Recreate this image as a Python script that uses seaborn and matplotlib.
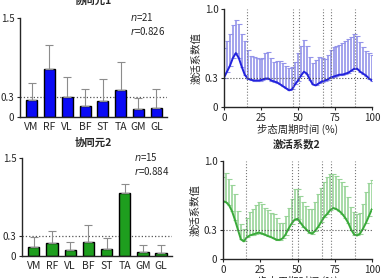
import seaborn as sns
import matplotlib.pyplot as plt
import numpy as np
import pandas as pd

# 肌肉名称 / 协同元权重 (均值, 均值+SD)
muscles = ["VM", "RF", "VL", "BF", "ST", "TA", "GM", "GL"]
w1_mean = [0.26, 0.72, 0.30, 0.16, 0.24, 0.41, 0.12, 0.13]
w1_top = [0.51, 1.09, 0.60, 0.43, 0.58, 0.83, 0.29, 0.43]
w2_mean = [0.14, 0.20, 0.09, 0.21, 0.11, 0.97, 0.06, 0.05]
w2_top = [0.29, 0.38, 0.21, 0.47, 0.28, 1.10, 0.17, 0.17]

# 步态周期 (%) 与激活系数 (均值, 均值+SD)
cycle = list(range(0, 101, 2))
c1_mean = [0.30, 0.36, 0.42, 0.50, 0.55, 0.50, 0.41, 0.33, 0.29, 0.28, 0.27,
           0.27, 0.27, 0.28, 0.29, 0.29, 0.27, 0.26, 0.25, 0.23, 0.21, 0.19,
           0.17, 0.18, 0.23, 0.27, 0.32, 0.36, 0.34, 0.28, 0.23, 0.22, 0.24,
           0.26, 0.27, 0.28, 0.30, 0.31, 0.32, 0.33, 0.33, 0.34, 0.35, 0.37,
           0.39, 0.39, 0.36, 0.34, 0.32, 0.29, 0.27]
c1_top = [0.60, 0.67, 0.75, 0.84, 0.89, 0.85, 0.75, 0.67, 0.58, 0.52, 0.51,
          0.50, 0.49, 0.50, 0.55, 0.56, 0.50, 0.46, 0.47, 0.47, 0.45, 0.42,
          0.40, 0.41, 0.46, 0.55, 0.62, 0.68, 0.62, 0.51, 0.45, 0.48, 0.51,
          0.50, 0.49, 0.53, 0.58, 0.61, 0.62, 0.63, 0.65, 0.67, 0.69, 0.71,
          0.74, 0.72, 0.66, 0.61, 0.57, 0.55, 0.53]
c2_mean = [0.59, 0.58, 0.55, 0.49, 0.40, 0.30, 0.20, 0.18, 0.22, 0.24, 0.25,
           0.26, 0.27, 0.26, 0.25, 0.235, 0.225, 0.21, 0.195, 0.195, 0.21, 0.25,
           0.31, 0.36, 0.40, 0.41, 0.37, 0.33, 0.30, 0.27, 0.26, 0.29, 0.33,
           0.38, 0.43, 0.46, 0.50, 0.52, 0.51, 0.49, 0.46, 0.42, 0.37, 0.30,
           0.25, 0.24, 0.26, 0.31, 0.37, 0.44, 0.51]
c2_top = [0.84, 0.88, 0.82, 0.76, 0.66, 0.49, 0.36, 0.31, 0.42, 0.48, 0.51,
          0.55, 0.58, 0.56, 0.52, 0.50, 0.47, 0.46, 0.42, 0.37, 0.37, 0.44,
          0.52, 0.61, 0.71, 0.71, 0.64, 0.58, 0.54, 0.51, 0.51, 0.58, 0.66,
          0.72, 0.79, 0.84, 0.87, 0.87, 0.85, 0.82, 0.79, 0.74, 0.63, 0.53,
          0.48, 0.46, 0.47, 0.56, 0.68, 0.78, 0.81]
phase_lines = [15.7, 46.4, 50.6, 66.6, 72.2, 88.7]

sns.set_style("ticks")
plt.rcParams['font.family'] = ['Noto Sans CJK SC', 'DejaVu Sans']
plt.rcParams['font.size'] = 7

W, H = 383, 278
fig = plt.figure(figsize=(W / 100, H / 100), dpi=100)


def box(l, r, b, t):
    return [l / W, 1 - b / H, (r - l) / W, (b - t) / H]


def bar_panel(rect, mean, top, color, n, r):
    ax = fig.add_axes(rect)
    df = pd.DataFrame({"muscle": muscles, "w": mean})
    sns.barplot(data=df, x="muscle", y="w", color=color, width=0.62,
                edgecolor="black", linewidth=1.0, saturation=1, ax=ax)
    up = np.array(top) - np.array(mean)
    ax.errorbar(range(8), mean, yerr=[np.zeros(8), up], fmt="none",
                ecolor="#8c8c8c", elinewidth=0.8, capsize=3, capthick=0.8,
                zorder=1)
    ax.axhline(0.3, ls=":", color="#555555", lw=0.9, zorder=0)
    ax.set_ylim(0, 1.5)
    ax.set_xlim(-0.65, 7.6)
    ax.set_yticks([0, 0.3, 1.5], ["0", "0.3", "1.5"])
    ax.set_xlabel("")
    ax.set_ylabel("")
    ax.tick_params(axis="y", length=2.5, width=0.8, pad=1.5, labelsize=7)
    ax.tick_params(axis="x", length=0, pad=3.5, labelsize=7.5)
    sns.despine(ax=ax)
    for s in ax.spines.values():
        s.set_linewidth(1.0)
    ax.text(0.75, 0.97, r"$n$=" + str(n), transform=ax.transAxes, fontsize=7)
    ax.text(0.75, 0.83, r"$r$=" + r, transform=ax.transAxes, fontsize=7)
    return ax


def curve_panel(rect, mean, top, lcolor, ecolor):
    ax = fig.add_axes(rect)
    up = np.array(top) - np.array(mean)
    ax.errorbar(cycle, mean, yerr=[np.zeros(len(cycle)), up], fmt="none",
                ecolor=ecolor, elinewidth=1.2, capsize=1.8, capthick=0.8)
    sns.lineplot(x=cycle, y=mean, color=lcolor, lw=1.4, ax=ax)
    ax.axhline(0.3, ls=":", color="#555555", lw=0.8)
    for v in phase_lines:
        ax.axvline(v, ls=":", color="#777777", lw=0.8)
    ax.set_xlim(0, 100)
    ax.set_ylim(0, 1.0)
    ax.set_xticks([0, 25, 50, 75, 100])
    ax.set_yticks([0, 0.3, 1.0], ["0", "0.3", "1.0"])
    ax.tick_params(length=2.5, width=0.8, pad=1.5, labelsize=7)
    ax.set_ylabel("激活系数值", fontsize=7.5, labelpad=2)
    ax.set_xlabel("步态周期时间 (%)", fontsize=7.5, labelpad=1)
    sns.despine(ax=ax)
    for s in ax.spines.values():
        s.set_linewidth(1.0)
    return ax


bar_panel(box(20, 167, 117, 18), w1_mean, w1_top, "#0a0af5", 21, "0.826")
bar_panel(box(22, 172, 256, 158), w2_mean, w2_top, "#1e9e1e", 15, "0.884")
curve_panel(box(224, 372, 107, 9), c1_mean, c1_top, "#2222dd", "#9494ea")
curve_panel(box(223, 372, 259, 161), c2_mean, c2_top, "#3aaa3a", "#98d498")

fig.text(93 / W, 1 - 1 / H, "协同元1", ha="center", va="center",
         fontsize=7.5, fontweight="bold")
fig.text(93 / W, 1 - 143 / H, "协同元2", ha="center", va="center",
         fontsize=7.5, fontweight="bold")
fig.text(297 / W, 1 - 144 / H, "激活系数2", ha="center", va="center",
         fontsize=7.5, fontweight="bold")

fig.savefig("out.png", dpi=100)
